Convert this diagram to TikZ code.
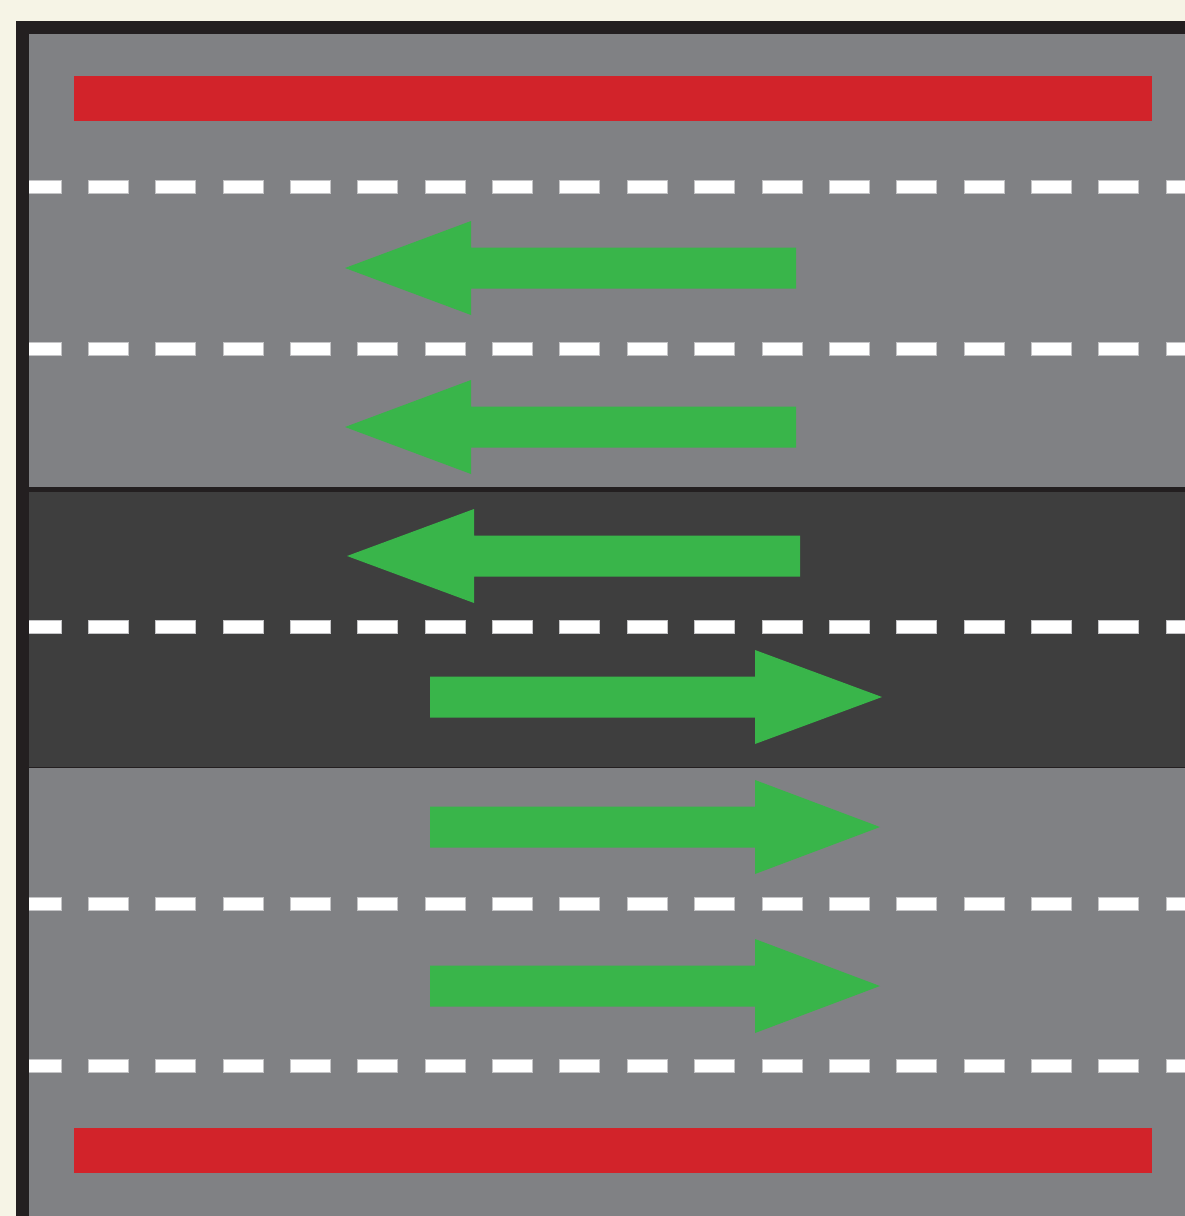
\documentclass[tikz,border=0pt]{standalone}
\definecolor{cream}{HTML}{F6F4E6}
\definecolor{roadgray}{HTML}{808184}
\definecolor{roaddark}{HTML}{3E3E3E}
\definecolor{edgeblack}{HTML}{231F20}
\definecolor{curbred}{HTML}{D2232A}
\definecolor{arrowgreen}{HTML}{39B54A}
\definecolor{dashedge}{HTML}{C4C4C6}
\tikzset{
  curb/.style={fill=curbred},
  lanedash/.style={fill=white, draw=dashedge, line width=0.8pt},
  greenarrow/.style={fill=arrowgreen}
}
\begin{document}
\begin{tikzpicture}[x=1pt,y=-1pt]
\useasboundingbox (0,0) rectangle (1185,1216);
\fill[cream] (0,0) rectangle (1185,1216);
% border
\fill[edgeblack] (15.5,21) rectangle (1185,1216);
% road surfaces
\fill[roadgray] (29,34) rectangle (1185,487);
\fill[edgeblack] (29,487) rectangle (1185,492);
\fill[roaddark] (29,492) rectangle (1185,767);
\fill[edgeblack] (29,766.5) rectangle (1185,768);
\fill[roadgray] (29,768) rectangle (1185,1216);
% curbs
\fill[curb] (74,76) rectangle (1152,121);
\fill[curb] (74,1128) rectangle (1152,1173);
% lane dashes
\begin{scope}
\clip (29,34) rectangle (1185,1216);
\foreach \yc in {186.5,349,627,904,1066}{
  \foreach \k in {0,...,17}{
    \path[lanedash] ({21+67.36*\k},\yc-6.5) rectangle ({61+67.36*\k},\yc+6.5);
  }
}
\end{scope}
% leftward arrows
\foreach \yc/\tip/\base/\tail in {268/345/471/796, 427/345/471/796, 556/347/474/800}{
  \fill[greenarrow] (\tip,\yc) -- (\base,\yc-47) -- (\base,\yc-20.5) -- (\tail,\yc-20.5)
    -- (\tail,\yc+20.5) -- (\base,\yc+20.5) -- (\base,\yc+47) -- cycle;
}
% rightward arrows
\foreach \yc/\tip/\base/\tail in {697/882/755/430, 827/880/755/430, 986/880/755/430}{
  \fill[greenarrow] (\tip,\yc) -- (\base,\yc-47) -- (\base,\yc-20.5) -- (\tail,\yc-20.5)
    -- (\tail,\yc+20.5) -- (\base,\yc+20.5) -- (\base,\yc+47) -- cycle;
}
\end{tikzpicture}
\end{document}
